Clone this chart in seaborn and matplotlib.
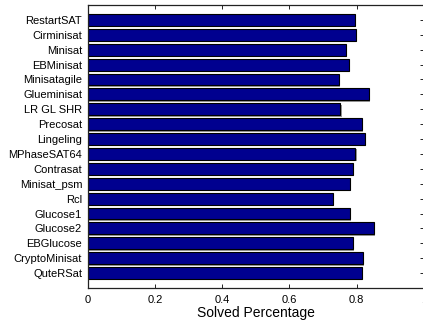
import matplotlib
matplotlib.use('Agg')
import matplotlib.pyplot as plt
import matplotlib.patheffects as pe
import pandas as pd
import seaborn as sns

# solvers listed top to bottom, as in the chart
solvers = ['RestartSAT', 'Cirminisat', 'Minisat', 'EBMinisat', 'Minisatagile',
           'Glueminisat', 'LR GL SHR', 'Precosat', 'Lingeling', 'MPhaseSAT64',
           'Contrasat', 'Minisat_psm', 'Rcl', 'Glucose1', 'Glucose2',
           'EBGlucose', 'CryptoMinisat', 'QuteRSat']
solved = [0.795, 0.798, 0.768, 0.776, 0.748,
          0.836, 0.752, 0.815, 0.824, 0.796,
          0.788, 0.780, 0.729, 0.780, 0.851,
          0.788, 0.819, 0.815]
x_ticks = [0, 0.2, 0.4, 0.6, 0.8, 1.0]
x_tick_labels = ['0', '0.2', '0.4', '0.6', '0.8', '1']


def main():
    sns.set_theme(style='ticks')
    plt.rcParams['font.family'] = ['Liberation Sans', 'DejaVu Sans']

    df = pd.DataFrame({'solver': solvers, 'solved': solved})

    fig = plt.figure(figsize=(4.23, 3.23), dpi=100)
    ax = fig.add_axes([0.2073, 0.1084, 0.7946, 0.8761])
    sns.barplot(data=df, x='solved', y='solver', order=solvers, color='#00008F',
                saturation=1, width=0.8, edgecolor='black', linewidth=0.8, ax=ax)

    # small grey drop shadow under each bar
    for p in ax.patches:
        p.set_path_effects([pe.SimplePatchShadow(offset=(1, -1), shadow_rgbFace='0.6', alpha=1),
                            pe.Normal()])

    ax.set_xlim(0, 1)
    ax.set_ylim(len(solvers), -1)
    ax.set_xticks(x_ticks, x_tick_labels)
    ax.tick_params(axis='both', direction='in', top=True, right=True, left=False,
                   labelsize=8, length=3, width=0.6, color='black', labelcolor='black')
    ax.tick_params(axis='y', pad=4)
    ax.tick_params(axis='x', pad=5)
    ax.set_xlabel('Solved Percentage', fontsize=10, labelpad=0.5, color='black')
    ax.set_ylabel('')
    for s in ax.spines.values():
        s.set_color('#222222')
        s.set_linewidth(0.9)

    fig.savefig('out.png', dpi=100)
    plt.close(fig)


if __name__ == '__main__':
    main()
